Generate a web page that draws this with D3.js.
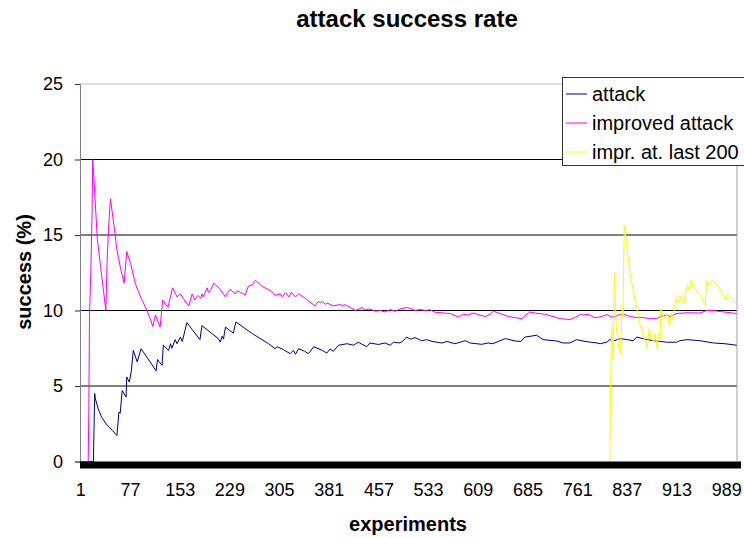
<!DOCTYPE html>
<html>
<head>
<meta charset="utf-8">
<script src="https://cdn.jsdelivr.net/npm/d3@7"></script>
<style>
  body { margin: 0; background: #fff; }
  svg { display: block; font-family: Arial, "Liberation Sans", sans-serif; }
</style>
</head>
<body>
<script>
// Constants
const width = 744;
const height = 538;
const plotLeft = 80;
const plotRight = 737;
const plotTop = 84;
const plotBottom = 461.5;

const titleText = 'attack success rate';
const xAxisLabel = 'experiments';
const yAxisLabel = 'success (%)';

// Data: [experiment, success %]
const xTicks = [1, 77, 153, 229, 305, 381, 457, 533, 609, 685, 761, 837, 913, 989];
const yTicks = [0, 5, 10, 15, 20, 25];
const seriesNames = ['attack', 'improved attack', 'impr. at. last 200'];
const seriesColors = ['#000080', '#ff00ff', '#ffff00'];

const attack = [
  [1, 0], [21, 0], [22, 2.3], [23, 4.5], [24, 4.15], [29, 3.4], [34, 2.9], [42, 2.4], [50, 2.06], [57, 1.72],
  [60, 3.27], [62, 3.2], [65, 4.7], [71, 4.27], [72, 5.6], [76, 5.26], [79, 6.0], [82, 7.36], [88, 6.6],
  [94, 7.47], [117, 6.0], [119, 6.75], [126, 6.37], [128, 7.7], [136, 7.36], [139, 7.8], [141, 7.5],
  [146, 8.07], [149, 7.8], [154, 8.24], [157, 7.95], [164, 9.2], [184, 8.07], [187, 9.0], [212, 8.14],
  [215, 7.9], [218, 8.3], [220, 8.1], [223, 8.9], [235, 8.5], [239, 9.24], [263, 8.5], [289, 7.8],
  [299, 7.47], [302, 7.6], [312, 7.4], [322, 7.14], [327, 7.36], [330, 7.1], [335, 7.47], [344, 7.3],
  [350, 7.14], [358, 7.6], [371, 7.36], [378, 7.18], [383, 7.45], [388, 7.3], [396, 7.7], [409, 7.8],
  [419, 7.7], [426, 7.9], [439, 7.6], [444, 7.85], [457, 7.75], [467, 7.85], [475, 7.7], [480, 7.9],
  [490, 7.85], [495, 8.0], [500, 8.24], [506, 8.1], [513, 8.2], [523, 8.0], [531, 8.07], [539, 7.95],
  [554, 7.85], [562, 7.95], [574, 7.8], [590, 8.0], [597, 7.85], [615, 7.76], [625, 7.85], [632, 7.8],
  [651, 8.14], [666, 7.98], [675, 7.95], [681, 8.24], [699, 8.36], [709, 8.07], [730, 7.98], [739, 7.85],
  [750, 7.85], [760, 8.07], [773, 7.95], [791, 7.85], [796, 7.8], [806, 7.9], [811, 8.07], [816, 7.98],
  [827, 8.14], [837, 8.07], [847, 8.0], [852, 8.24], [865, 8.1], [878, 8.0], [898, 7.9], [913, 7.9],
  [918, 8.0], [929, 8.07], [949, 8.0], [969, 7.85], [987, 7.8], [1005, 7.7]
];

const improved = [
  [1, 0], [13, 0], [14, 3.3], [15, 9.6], [17, 12.5], [19, 16.6], [20, 20.0], [22, 18.6], [27, 14.7],
  [32, 12.9], [37, 11.1], [40, 10.0], [42, 13.3], [44, 15.3], [47, 17.4], [52, 15.8], [57, 14.0],
  [63, 12.7], [68, 11.8], [72, 13.9], [78, 13.1], [85, 11.8], [93, 10.9], [103, 10.0], [112, 8.95],
  [116, 9.7], [123, 8.9], [127, 10.7], [135, 10.2], [142, 11.5], [149, 10.9], [154, 11.1], [160, 10.7],
  [167, 10.3], [172, 11.1], [176, 10.7], [181, 11.0], [185, 10.8], [187, 11.1], [189, 10.9], [195, 11.5],
  [197, 11.2], [201, 11.4], [205, 11.8], [213, 11.5], [223, 10.9], [225, 11.1], [230, 11.4], [238, 11.1],
  [241, 11.3], [246, 11.2], [251, 11.1], [253, 11.0], [258, 11.6], [264, 11.7], [269, 12.0], [279, 11.6],
  [292, 11.3], [299, 11.0], [307, 11.1], [310, 10.9], [315, 11.2], [320, 10.9], [324, 11.2], [330, 10.9],
  [335, 11.1], [342, 10.9], [348, 10.7], [360, 10.3], [365, 10.6], [368, 10.5], [371, 10.6], [376, 10.4],
  [378, 10.5], [388, 10.3], [399, 10.4], [402, 10.3], [405, 10.4], [414, 10.2], [422, 10.0], [432, 10.2],
  [437, 10.05], [444, 10.1], [452, 9.95], [460, 10.0], [467, 9.9], [475, 10.06], [483, 9.95], [490, 10.1],
  [501, 10.2], [508, 10.1], [513, 10.0], [521, 10.07], [529, 10.0], [536, 10.05], [544, 9.88], [559, 9.83],
  [567, 9.8], [579, 9.57], [587, 9.75], [594, 9.7], [602, 9.83], [608, 9.75], [620, 9.6], [628, 9.75],
  [633, 9.95], [643, 9.8], [656, 9.6], [666, 9.53], [676, 9.46], [680, 9.6], [688, 9.9], [697, 9.83],
  [712, 9.75], [724, 9.6], [735, 9.46], [750, 9.4], [758, 9.55], [766, 9.75], [770, 9.7], [778, 9.75],
  [788, 9.53], [796, 9.57], [806, 9.73], [814, 9.57], [822, 9.65], [827, 9.73], [832, 9.75], [842, 9.6],
  [852, 9.53], [862, 9.53], [873, 9.46], [883, 9.46], [888, 9.6], [898, 9.7], [903, 9.6], [913, 9.8],
  [929, 9.85], [949, 9.83], [959, 10.0], [969, 10.0], [980, 9.93], [990, 9.88], [1005, 9.8]
];

const last200 = [
  [811, 0], [812, 4.6], [814, 9.0], [816, 6.7], [818, 12.45], [821, 8.9], [824, 7.8], [827, 7.14],
  [830, 10.3], [831, 9.5], [833, 15.65], [837, 14.2], [842, 12.45], [847, 11.3], [852, 10.2], [857, 9.1],
  [865, 8.0], [868, 7.47], [871, 8.8], [874, 8.3], [878, 7.9], [880, 8.46], [884, 7.36], [885, 8.46],
  [888, 8.1], [889, 10.1], [895, 9.46], [899, 9.8], [902, 9.0], [905, 9.8], [907, 9.46], [909, 9.9],
  [912, 10.8], [915, 10.5], [918, 11.0], [921, 10.7], [924, 10.46], [927, 11.3], [930, 11.67], [933, 11.3],
  [935, 11.96], [944, 11.3], [952, 10.8], [957, 10.35], [959, 11.96], [964, 11.67], [968, 12.05],
  [975, 11.67], [982, 11.23], [989, 10.7], [991, 11.1], [997, 10.8], [1005, 10.46]
];

const seriesData = [attack, improved, last200];

// Make main svg
const svg = d3.select('body')
  .append('svg')
  .attr('width', width)
  .attr('height', height);

// Make scales.
const xScale = d3.scaleLinear()
  .domain([0.5, 1005.5])
  .range([plotLeft, plotRight]);

const yScale = d3.scaleLinear()
  .domain([0, 25])
  .range([plotBottom, plotTop]);

// Gridlines
svg.append('g')
  .selectAll('line')
  .data(yTicks.filter((d) => d > 0))
  .join('line')
  .attr('x1', plotLeft)
  .attr('x2', plotRight)
  .attr('y1', (d) => yScale(d))
  .attr('y2', (d) => yScale(d))
  .attr('stroke', (d) => (d === 25 ? '#c0c0c0' : '#000'))
  .attr('stroke-width', 1);

// right border of plot area
svg.append('line')
  .attr('x1', plotRight).attr('x2', plotRight)
  .attr('y1', plotTop).attr('y2', plotBottom)
  .attr('stroke', '#a0a0a0');

// Make y axis.
const yAxis = d3.axisLeft(yScale)
  .tickValues(yTicks)
  .tickSize(5)
  .tickPadding(12);

const yAxisG = svg.append('g')
  .attr('transform', `translate(${plotLeft},0)`)
  .call(yAxis);
yAxisG.select('.domain').attr('stroke', '#808080');
yAxisG.selectAll('.tick line').attr('stroke', '#333');
yAxisG.selectAll('text')
  .attr('font-family', 'Arial, "Liberation Sans", sans-serif')
  .attr('font-size', '18px')
  .attr('fill', '#000');

// Make x axis.
const xAxis = d3.axisBottom(xScale)
  .tickValues(xTicks)
  .tickSize(0)
  .tickPadding(22);

const xAxisG = svg.append('g')
  .attr('transform', `translate(0,${plotBottom})`)
  .call(xAxis);
xAxisG.select('.domain').remove();
xAxisG.selectAll('text')
  .attr('font-family', 'Arial, "Liberation Sans", sans-serif')
  .attr('font-size', '18px')
  .attr('fill', '#000');

// Lines
const line = d3.line()
  .x((d) => xScale(d[0]))
  .y((d) => yScale(d[1]));

svg.append('g')
  .selectAll('path')
  .data(seriesData)
  .join('path')
  .attr('d', line)
  .attr('fill', 'none')
  .attr('stroke', (d, i) => seriesColors[i])
  .attr('stroke-width', 1);

// thick zero line
svg.append('line')
  .attr('x1', plotLeft)
  .attr('x2', 741)
  .attr('y1', yScale(0) + 3.5)
  .attr('y2', yScale(0) + 3.5)
  .attr('stroke', '#000')
  .attr('stroke-width', 7);

// Make title.
svg.append('text')
  .attr('x', 407)
  .attr('y', 27)
  .attr('text-anchor', 'middle')
  .attr('font-size', '24px')
  .style('font-weight', 'bold')
  .text(titleText);

svg.append('text')
  .attr('x', 408)
  .attr('y', 531)
  .attr('text-anchor', 'middle')
  .attr('font-size', '20px')
  .style('font-weight', 'bold')
  .text(xAxisLabel);

svg.append('text')
  .attr('transform', 'translate(31,272) rotate(-90)')
  .attr('text-anchor', 'middle')
  .attr('font-size', '20px')
  .style('font-weight', 'bold')
  .text(yAxisLabel);

// Make legend
const legend = svg.append('g')
  .attr('transform', 'translate(562,77)');

legend.append('rect')
  .attr('x', 0.5)
  .attr('y', 0.5)
  .attr('width', 200)
  .attr('height', 88)
  .attr('fill', '#fff')
  .attr('stroke', '#333');

const legendItems = legend.selectAll('.item')
  .data(seriesNames)
  .join('g')
  .attr('class', 'item')
  .attr('transform', (d, i) => `translate(0,${17 + i * 29})`);

legendItems.append('line')
  .attr('x1', 4)
  .attr('x2', 25)
  .attr('stroke', (d, i) => seriesColors[i])
  .attr('stroke-width', 1);

legendItems.append('text')
  .attr('x', 30)
  .attr('dy', '0.35em')
  .attr('font-size', '20px')
  .text((d) => d);
</script>
</body>
</html>
